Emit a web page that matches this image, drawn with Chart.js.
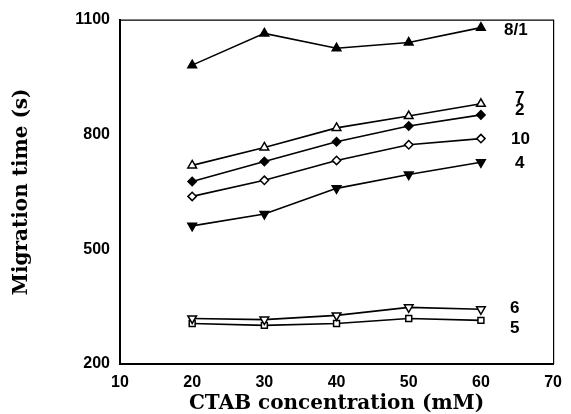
<!DOCTYPE html>
<html><head><meta charset="utf-8">
<script src="https://cdn.jsdelivr.net/npm/chart.js@4/dist/chart.umd.min.js"></script>
<style>html,body{margin:0;padding:0;background:#fff}#wrap{width:571px;height:414px}</style>
</head><body><div id="wrap"><canvas id="c" width="571" height="414"></canvas></div>
<script>
const ctab = [20, 30, 40, 50, 60];
const xTicks = [10, 20, 30, 40, 50, 60, 70];
const yTicks = [200, 500, 800, 1100];
const s81 = [981, 1064, 1025, 1040, 1079];
const s7  = [719, 766, 817, 848, 880];
const s2  = [677, 729, 781, 822, 851];
const s10 = [638, 680, 732, 773, 789];
const s4  = [561, 592, 659, 695, 727];
const s6  = [319, 316, 327, 348, 343];
const s5  = [306, 301, 306, 319, 314];
const seriesNames = ['8/1', '7', '2', '10', '4', '6', '5'];
const labelX = [504, 515, 515, 511, 515, 510, 510];
const labelY = [1071, 895, 864, 786, 724, 345, 293];

function pts(v){ return v.map((y,i)=>({x:ctab[i], y})); }
function ds(name, data, style, filled, rot){
  return {label:name, data:pts(data), borderColor:'#000', borderWidth:1.6,
    pointStyle:style, pointRotation:rot||0, pointRadius: style==='triangle'?5:4.2,
    pointBackgroundColor: filled?'#000':'#fff', pointBorderColor:'#000', pointBorderWidth:1.5,
    fill:false, tension:0};
}
const tickFont = {family:'"Liberation Sans", Arial, sans-serif', size:16, weight:'bold'};
const frame = {
  id:'frame',
  afterDraw(chart){
    const {ctx, chartArea:a} = chart;
    ctx.save();
    ctx.strokeStyle='#000'; ctx.lineWidth=1.2;
    ctx.beginPath();
    ctx.moveTo(a.left, a.top+0.5); ctx.lineTo(a.right+0.5, a.top+0.5); ctx.lineTo(a.right+0.5, a.bottom);
    ctx.stroke();
    ctx.fillStyle='#000';
    ctx.font='bold 17px "Liberation Sans", Arial, sans-serif';
    ctx.textBaseline='middle'; ctx.textAlign='left';
    const ys = chart.scales.y;
    seriesNames.forEach((n,i)=>{ ctx.fillText(n, labelX[i], ys.getPixelForValue(labelY[i])); });
    ctx.restore();
  }
};
new Chart(document.getElementById('c'), {
  type:'line',
  data:{datasets:[
    ds('8/1', s81, 'triangle', true),
    ds('7', s7, 'triangle', false),
    ds('2', s2, 'rectRot', true),
    ds('10', s10, 'rectRot', false),
    ds('4', s4, 'triangle', true, 180),
    ds('6', s6, 'triangle', false, 180),
    ds('5', s5, 'rect', false)
  ]},
  options:{
    responsive:false, animation:false, devicePixelRatio:1,
    layout:{padding:{top:17, right:9, left:0, bottom:0}},
    plugins:{legend:{display:false}, tooltip:{enabled:false}},
    scales:{
      x:{type:'linear', min:10, max:70,
        afterBuildTicks(s){ s.ticks = xTicks.map(v=>({value:v})); },
        afterFit(s){ s.height = 50; },
        grid:{display:false, drawTicks:false},
        border:{display:true, color:'#000', width:2},
        ticks:{color:'#000', padding:9, maxRotation:0, font:tickFont, callback:v=>String(v)},
        title:{display:true, text:'CTAB concentration (mM)', color:'#000', padding:{top:0,bottom:0},
          font:{family:'"DejaVu Serif", serif', size:20, weight:'bold', lineHeight:1}}
      },
      y:{type:'linear', min:200, max:1100,
        afterBuildTicks(s){ s.ticks = yTicks.map(v=>({value:v})); },
        afterFit(s){ s.width = 120; },
        grid:{display:false, drawTicks:false},
        border:{display:true, color:'#000', width:2},
        ticks:{color:'#000', padding:10, font:tickFont, callback:v=>String(v)},
        title:{display:true, text:'Migration time (s)', color:'#000', padding:{top:12,bottom:0},
          font:{family:'"DejaVu Serif", serif', size:20, weight:'bold', lineHeight:1}}
      }
    }
  },
  plugins:[frame]
});
</script></body></html>
